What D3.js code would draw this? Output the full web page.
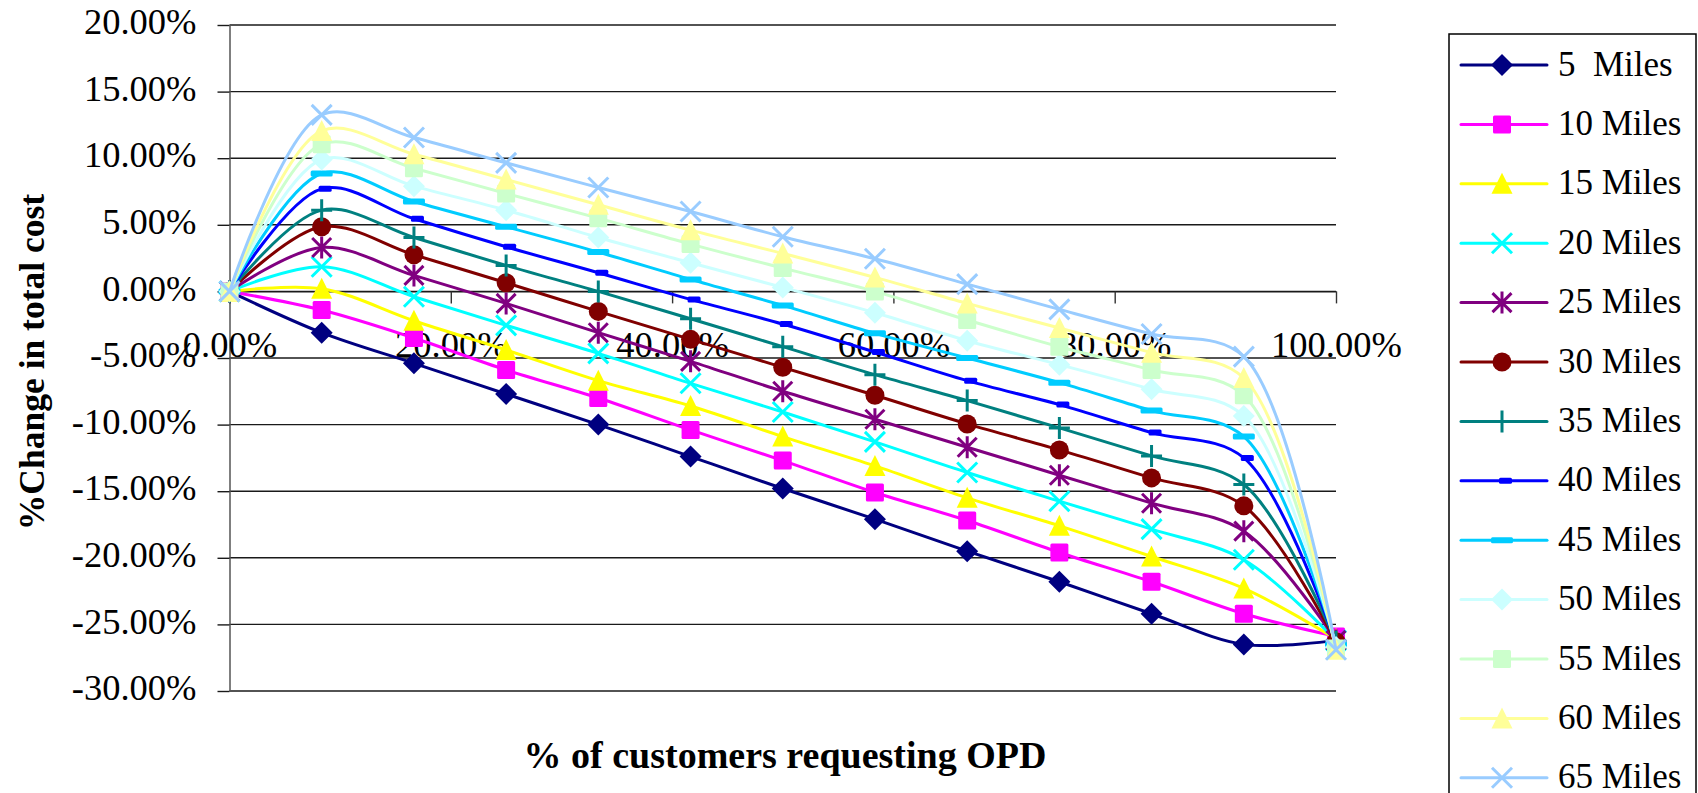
<!DOCTYPE html>
<html>
<head>
<meta charset="utf-8">
<script src="https://cdn.jsdelivr.net/npm/d3@7/dist/d3.min.js"></script>
<style>
  html, body { margin: 0; padding: 0; background: #fff; }
  svg { display: block; }
  text { font-family: "Liberation Serif", "Times New Roman", serif; }
</style>
</head>
<body>
<svg id="chart" width="1698" height="793"></svg>
<script>
// ---------------- DATA ----------------
const xValues = [0, 8.33, 16.67, 25, 33.33, 41.67, 50, 58.33, 66.67, 75, 83.33, 91.67, 100];

const miles5  = [0, -3.1, -5.4, -7.7, -10.0, -12.4, -14.8, -17.1, -19.5, -21.8, -24.2, -26.5, -26.2];
const miles10 = [0, -1.4, -3.5, -5.9, -8.0, -10.4, -12.7, -15.1, -17.2, -19.6, -21.8, -24.2, -25.9];
const miles15 = [0, 0.2, -2.2, -4.4, -6.7, -8.6, -10.9, -13.1, -15.5, -17.6, -19.9, -22.3, -26.1];
const miles20 = [0, 1.85, -0.4, -2.55, -4.65, -6.9, -9.05, -11.3, -13.6, -15.75, -17.85, -20.15, -26.2];
const miles25 = [0, 3.3, 1.2, -0.9, -3.1, -5.25, -7.5, -9.6, -11.7, -13.8, -15.9, -18.0, -26.2];
const miles30 = [0, 4.85, 2.75, 0.65, -1.5, -3.6, -5.7, -7.8, -9.95, -11.9, -14.0, -16.1, -26.3];
const miles35 = [0, 6.1, 4.05, 1.95, 0.0, -2.05, -4.15, -6.25, -8.2, -10.25, -12.35, -14.5, -26.3];
const miles40 = [0, 7.7, 5.45, 3.35, 1.4, -0.6, -2.45, -4.55, -6.7, -8.5, -10.6, -12.5, -26.4];
const miles45 = [0, 8.85, 6.75, 4.85, 2.95, 0.9, -1.05, -3.15, -5.0, -6.85, -8.95, -10.9, -26.5];
const miles50 = [0, 9.9, 7.9, 6.1, 4.05, 2.15, 0.3, -1.6, -3.7, -5.5, -7.35, -9.35, -26.7];
const miles55 = [0, 11.05, 9.25, 7.35, 5.5, 3.55, 1.75, 0.0, -2.15, -4.15, -5.9, -7.8, -26.8];
const miles60 = [0, 12.05, 10.3, 8.4, 6.5, 4.6, 2.85, 1.05, -0.9, -2.75, -4.6, -6.5, -26.9];
const miles65 = [0, 13.25, 11.55, 9.65, 7.8, 6.0, 4.1, 2.45, 0.55, -1.35, -3.2, -4.9, -26.9];

const seriesNames = ["5  Miles", "10 Miles", "15 Miles", "20 Miles", "25 Miles", "30 Miles", "35 Miles",
                     "40 Miles", "45 Miles", "50 Miles", "55 Miles", "60 Miles", "65 Miles"];
const seriesValues = [miles5, miles10, miles15, miles20, miles25, miles30, miles35,
                      miles40, miles45, miles50, miles55, miles60, miles65];

const yTickValues = [-30, -25, -20, -15, -10, -5, 0, 5, 10, 15, 20];
const xTickValues = [0, 20, 40, 60, 80, 100];

const xTitle = "% of customers requesting OPD";
const yTitle = "%Change in total cost";

// ---------------- STYLES ----------------
const seriesColors = ["#000080", "#FF00FF", "#FFFF00", "#00FFFF", "#800080", "#800000", "#008080",
                      "#0000FF", "#00CCFF", "#CCFFFF", "#CCFFCC", "#FFFF99", "#99CCFF"];
const seriesMarkers = ["diamond", "square", "triangle", "x", "star", "circle", "plus",
                       "shortdash", "longdash", "diamond", "square", "triangle", "x"];

// ---------------- CHART ----------------
const svg = d3.select("#chart");
const TICK_FONT = 36.5;
const LEGEND_FONT = 35;
const SERIF = "'Liberation Serif', 'Times New Roman', serif";

const x = d3.scaleLinear().domain([0, 100]).range([229.5, 1336]);
const y = d3.scaleLinear().domain([-30, 20]).range([691, 25]);

// gridlines
svg.append("g").selectAll("line").data(yTickValues).join("line")
  .attr("x1", x(0)).attr("x2", x(100))
  .attr("y1", d => y(d)).attr("y2", d => y(d))
  .attr("stroke", "#1a1a1a").attr("stroke-width", 1.4);

// y axis
const yAxis = svg.append("g").attr("transform", `translate(${x(0)},0)`)
  .call(d3.axisLeft(y).tickValues(yTickValues).tickSize(12).tickSizeOuter(0).tickPadding(21)
    .tickFormat(d => d.toFixed(2) + "%"));
yAxis.select(".domain").attr("stroke", "#555").attr("stroke-width", 1.5);
yAxis.selectAll(".tick line").attr("stroke", "#1a1a1a").attr("stroke-width", 1.4);
yAxis.selectAll("text").attr("font-size", TICK_FONT).attr("fill", "#000")
  .attr("font-family", SERIF).attr("dy", "0.24em");

// x axis (crossing at 0)
const xAxis = svg.append("g").attr("transform", `translate(0,${y(0)})`)
  .call(d3.axisBottom(x).tickValues(xTickValues).tickSize(12).tickSizeOuter(0)
    .tickFormat(d => d.toFixed(2) + "%"));
xAxis.select(".domain").attr("stroke", "#1a1a1a").attr("stroke-width", 1.4);
xAxis.selectAll(".tick line").attr("stroke", "#333").attr("stroke-width", 1.4);
xAxis.selectAll("text").attr("font-size", TICK_FONT).attr("fill", "#000")
  .attr("font-family", SERIF).attr("y", 66).attr("dy", 0);

// axis titles
svg.append("text")
  .attr("x", 785).attr("y", 768)
  .attr("text-anchor", "middle").attr("font-size", 38).attr("font-weight", "bold")
  .text(xTitle);
svg.append("text")
  .attr("transform", "translate(44,362) rotate(-90)")
  .attr("text-anchor", "middle").attr("font-size", 35.5).attr("font-weight", "bold")
  .text(yTitle);

// marker drawing
function drawMarker(g, type, color, cx, cy) {
  const sw = 3;
  switch (type) {
    case "diamond":
      g.append("path").attr("d", `M${cx},${cy-11}L${cx+11},${cy}L${cx},${cy+11}L${cx-11},${cy}Z`).attr("fill", color);
      break;
    case "square":
      g.append("rect").attr("x", cx-9).attr("y", cy-9).attr("width", 18).attr("height", 18).attr("rx", 1.5).attr("fill", color);
      break;
    case "triangle":
      g.append("path").attr("d", `M${cx},${cy-11}L${cx+10.5},${cy+10}L${cx-10.5},${cy+10}Z`).attr("fill", color);
      break;
    case "x":
      g.append("path").attr("d", `M${cx-10},${cy-10}L${cx+10},${cy+10}M${cx-10},${cy+10}L${cx+10},${cy-10}`)
        .attr("stroke", color).attr("stroke-width", sw).attr("fill", "none");
      break;
    case "star":
      g.append("path").attr("d", `M${cx-9.5},${cy-9.5}L${cx+9.5},${cy+9.5}M${cx-9.5},${cy+9.5}L${cx+9.5},${cy-9.5}M${cx},${cy-11}L${cx},${cy+11}`)
        .attr("stroke", color).attr("stroke-width", sw).attr("fill", "none");
      break;
    case "circle":
      g.append("circle").attr("cx", cx).attr("cy", cy).attr("r", 9.5).attr("fill", color);
      break;
    case "plus":
      g.append("path").attr("d", `M${cx-10.5},${cy}L${cx+10.5},${cy}M${cx},${cy-11}L${cx},${cy+11}`)
        .attr("stroke", color).attr("stroke-width", sw).attr("fill", "none");
      break;
    case "shortdash":
      g.append("rect").attr("x", cx-3).attr("y", cy-3).attr("width", 13).attr("height", 6).attr("rx", 1.5).attr("fill", color);
      break;
    case "longdash":
      g.append("rect").attr("x", cx-11).attr("y", cy-3).attr("width", 22).attr("height", 6).attr("rx", 1.5).attr("fill", color);
      break;
  }
}

// series
const line = d3.line()
  .x((d, i) => x(xValues[i]))
  .y(d => y(d))
  .curve(d3.curveCatmullRom.alpha(0.5));

const seriesG = svg.append("g");
seriesValues.forEach((vals, s) => {
  const g = seriesG.append("g");
  g.append("path").attr("d", line(vals))
    .attr("fill", "none").attr("stroke", seriesColors[s]).attr("stroke-width", 3)
    .attr("stroke-linejoin", "round");
  vals.forEach((v, i) => drawMarker(g, seriesMarkers[s], seriesColors[s], x(xValues[i]), y(v)));
});

// legend
const legend = svg.append("g");
legend.append("rect").attr("x", 1449).attr("y", 34).attr("width", 247).attr("height", 800)
  .attr("fill", "#fff").attr("stroke", "#000").attr("stroke-width", 1.5);
seriesNames.forEach((name, s) => {
  const ry = 65 + 59.4 * s;
  const g = legend.append("g");
  g.append("line").attr("x1", 1461).attr("x2", 1547).attr("y1", ry).attr("y2", ry)
    .attr("stroke", seriesColors[s]).attr("stroke-width", 3).attr("stroke-linecap", "round");
  drawMarker(g, seriesMarkers[s], seriesColors[s], 1502, ry);
  g.append("text").attr("x", 1558).attr("y", ry + 10.5).attr("font-size", LEGEND_FONT)
    .attr("xml:space", "preserve").style("white-space", "pre")
    .text(name);
});
</script>
</body>
</html>
